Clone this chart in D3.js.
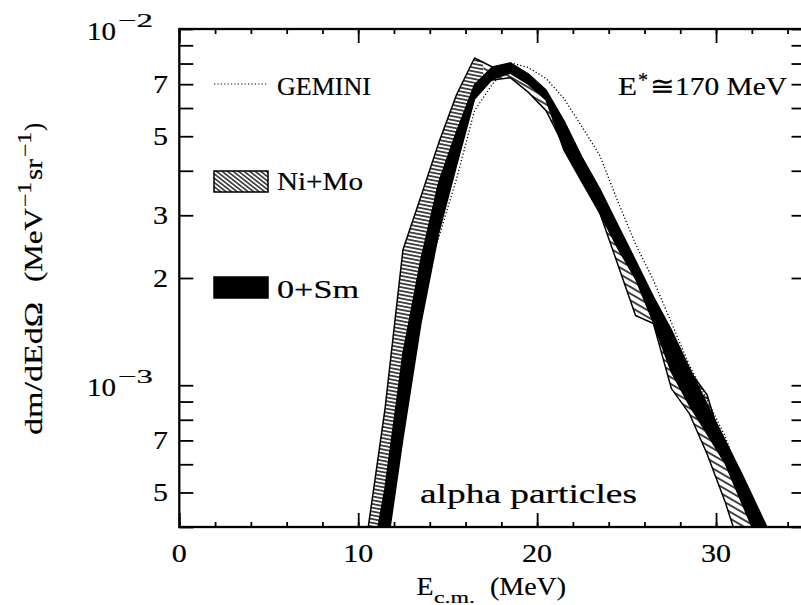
<!DOCTYPE html>
<html>
<head>
<meta charset="utf-8">
<script src="https://cdn.jsdelivr.net/npm/d3@7"></script>
<style>
  html, body { margin: 0; padding: 0; background: #fff; }
  svg { display: block; }
  text { font-family: "Liberation Serif", "Times New Roman", serif; fill: #000; stroke: #000; stroke-width: 0.2px; }
</style>
</head>
<body>
<svg id="chart" width="801" height="605"></svg>
<script>
// c.m. energy bins (MeV)
const energies = [10.5, 11.5, 12.5, 13.5, 14.5, 15.5, 16.5, 17.5, 18.5, 19.5, 20.5, 21.5,
                  22.5, 23.5, 24.5, 25.5, 26.5, 27.5, 28.5, 29.5, 30.5, 31.5, 32.5, 33.5];

// Ni+Mo band (lower / upper limits), MeV^-1 sr^-1
const niMoLow  = [1.5e-4, 4.55e-4, 1.22e-3, 2.2e-3, 3.7e-3, 5.15e-3, 6.83e-3, 7.19e-3, 7.3e-3, 6.65e-3, 5.9e-3, 4.7e-3,
                  3.8e-3, 3.05e-3, 2.19e-3, 1.57e-3, 1.49e-3, 9.8e-4, 8.34e-4, 6.41e-4, 4.72e-4, 3.3e-4, 2.5e-4, 2.0e-4];
const niMoHigh = [3.8e-4, 8.6e-4, 2.4e-3, 3.38e-3, 4.79e-3, 6.55e-3, 8.29e-3, 7.82e-3, 7.7e-3, 7.1e-3, 6.65e-3, 5.4e-3,
                  4.3e-3, 3.5e-3, 2.8e-3, 2.2e-3, 1.75e-3, 1.3e-3, 1.1e-3, 9.4e-4, 6.4e-4, 4.9e-4, 3.9e-4, 3.0e-4];

// O+Sm band (lower / upper limits)
const oSmLow  = [1.2e-4, 3.19e-4, 7.1e-4, 1.49e-3, 2.68e-3, 4.15e-3, 6.36e-3, 7.24e-3, 7.52e-3, 7.0e-3, 6.32e-3, 4.57e-3,
                 3.72e-3, 3.04e-3, 2.43e-3, 1.99e-3, 1.50e-3, 1.09e-3, 8.8e-4, 7.3e-4, 6.05e-4, 4.6e-4, 3.5e-4, 2.8e-4];
const oSmHigh = [2.7e-4, 5.14e-4, 1.22e-3, 2.25e-3, 3.7e-3, 5.15e-3, 6.97e-3, 7.82e-3, 8.03e-3, 7.48e-3, 6.74e-3, 5.52e-3,
                 4.37e-3, 3.56e-3, 2.82e-3, 2.24e-3, 1.77e-3, 1.43e-3, 1.12e-3, 8.85e-4, 7.02e-4, 5.56e-4, 4.35e-4, 3.4e-4];

// GEMINI statistical-model calculation
const gemini = [1.8e-4, 4.5e-4, 1.15e-3, 1.75e-3, 2.6e-3, 3.8e-3, 5.9e-3, 7.0e-3, 8.04e-3, 7.8e-3, 7.26e-3, 6.38e-3,
                5.32e-3, 4.42e-3, 3.29e-3, 2.49e-3, 1.97e-3, 1.50e-3, 1.14e-3, 9.1e-4, 7.2e-4, 5.3e-4, 4.1e-4, 3.2e-4];

// axis labels
const xTickLabels = [0, 10, 20, 30];
const yDecadeLabels = [1e-2, 1e-3];
const yDigitLabels = [7e-3, 5e-3, 3e-3, 2e-3, 7e-4, 5e-4];

const svg = d3.select("#chart");
const X0 = 179.3, X1 = 805.5, Y0 = 29, Y1 = 527;
const x = d3.scaleLinear().domain([0, 35]).range([X0, X1]);
const y = d3.scaleLog().domain([4e-4, 1e-2]).range([Y1, Y0]);

const defs = svg.append("defs");
defs.append("clipPath").attr("id", "plotClip")
  .append("rect").attr("x", X0).attr("y", Y0).attr("width", X1 - X0).attr("height", Y1 - Y0);
defs.append("clipPath").attr("id", "riseClip")
  .append("rect").attr("x", 0).attr("y", 0).attr("width", x(17)).attr("height", 605);
defs.append("clipPath").attr("id", "fallClip")
  .append("rect").attr("x", x(17)).attr("y", 0).attr("width", 801).attr("height", 605);

function hatch(id, spacing, angle, width) {
  const p = defs.append("pattern").attr("id", id)
    .attr("patternUnits", "userSpaceOnUse")
    .attr("width", 40).attr("height", spacing)
    .attr("patternTransform", `rotate(${angle})`);
  p.append("rect").attr("width", 40).attr("height", spacing).attr("fill", "#fff");
  p.append("line").attr("x1", 0).attr("x2", 40)
    .attr("y1", spacing / 2).attr("y2", spacing / 2)
    .attr("stroke", "#000").attr("stroke-width", width);
}
hatch("hatchRise", 3.7, 11, 1.4);
hatch("hatchFall", 5.8, 30, 1.3);
hatch("hatchKey", 3.4, 38, 1.2);

const niMo = energies.map((e, i) => ({ e, lo: niMoLow[i], hi: niMoHigh[i] }));
const oSm = energies.map((e, i) => ({ e, lo: oSmLow[i], hi: oSmHigh[i] }));
const gem = energies.map((e, i) => ({ e, v: gemini[i] }));

const band = d3.area().x(d => x(d.e)).y0(d => y(d.lo)).y1(d => y(d.hi));
const line = d3.line().x(d => x(d.e)).y(d => y(d.v));

const plot = svg.append("g").attr("clip-path", "url(#plotClip)");

// Ni+Mo hatched band
plot.append("g").attr("clip-path", "url(#riseClip)")
  .append("path").datum(niMo).attr("d", band).attr("fill", "url(#hatchRise)");
plot.append("g").attr("clip-path", "url(#fallClip)")
  .append("path").datum(niMo).attr("d", band).attr("fill", "url(#hatchFall)");
plot.append("path").datum(niMo).attr("d", band)
  .attr("fill", "none").attr("stroke", "#000").attr("stroke-width", 1.5).attr("stroke-linejoin", "round");

// O+Sm solid band
plot.append("path").datum(oSm).attr("d", band)
  .attr("fill", "#000").attr("stroke", "#000").attr("stroke-width", 1.5).attr("stroke-linejoin", "round");

// GEMINI dotted curve
plot.append("path").datum(gem).attr("d", line)
  .attr("fill", "none").attr("stroke", "#000").attr("stroke-width", 1.3)
  .attr("stroke-dasharray", "1.2,2.2");

// ticks
function tickSet(axis, tx, ty, vals, size) {
  svg.append("g").attr("transform", `translate(${tx},${ty})`)
    .call(axis.tickValues(vals).tickSize(size).tickFormat(""))
    .call(g => g.select(".domain").remove())
    .selectAll("line").attr("stroke", "#000").attr("stroke-width", 1.8);
}
const xMinor = d3.range(0, 35, 2);
const xMajor = [0, 10, 20, 30];
const yTicks = y.ticks();
tickSet(d3.axisTop(x), 0, Y1, xMinor, 5);
tickSet(d3.axisTop(x), 0, Y1, xMajor, 14);
tickSet(d3.axisBottom(x), 0, Y0, xMinor, 5);
tickSet(d3.axisBottom(x), 0, Y0, xMajor, 14);
tickSet(d3.axisRight(y), X0, 0, yTicks, 14);
tickSet(d3.axisLeft(y), X1, 0, yTicks, 14);

// frame
svg.append("rect").attr("x", X0).attr("y", Y0).attr("width", X1 - X0).attr("height", Y1 - Y0)
  .attr("fill", "none").attr("stroke", "#000").attr("stroke-width", 2.3);

function label(parent, txt, px, py, size, len, anchor) {
  const t = parent.append("text").attr("x", px).attr("y", py).attr("font-size", size).text(txt);
  if (len) t.attr("textLength", len).attr("lengthAdjust", "spacingAndGlyphs");
  if (anchor) t.attr("text-anchor", anchor);
  return t;
}

// x tick labels
xTickLabels.forEach(v => label(svg, String(v), x(v), 562, 25, 15 * String(v).length, "middle"));

// y tick labels
yDigitLabels.forEach(v => {
  const digit = Math.round(v / Math.pow(10, Math.floor(Math.log10(v) + 1e-9)));
  label(svg, String(digit), 168, y(v) + 9, 25, 15, "end");
});
yDecadeLabels.forEach(v => {
  const ex = Math.round(Math.log10(v));
  label(svg, "10", 87, y(v) + 11, 25, 29);
  label(svg, "\u2212" + Math.abs(ex), 118, y(v) - 2, 19, 35);
});

// axis titles
label(svg, "E", 416.5, 595, 26, 17);
label(svg, "c.m.", 434, 603, 16, 41);
label(svg, "(MeV)", 490, 595, 26, 76);

const yt = svg.append("g").attr("transform", "translate(42,435) rotate(-90)");
label(yt, "dm/dEd\u03A9", 0, 0, 26, 133);
label(yt, "(MeV", 153, 0, 26, 74);
label(yt, "\u22121", 228, -11, 18, 25);
label(yt, "sr", 255, 0, 26, 21);
label(yt, "\u22121", 278, -11, 18, 25);
label(yt, ")", 304, 0, 26, 8);

// legend
svg.append("line").attr("x1", 214).attr("x2", 268).attr("y1", 84).attr("y2", 84)
  .attr("stroke", "#000").attr("stroke-width", 1.2).attr("stroke-dasharray", "1.2,2.2");
label(svg, "GEMINI", 277, 95, 25, 94);
svg.append("rect").attr("x", 214).attr("y", 171).attr("width", 54).attr("height", 21)
  .attr("fill", "url(#hatchKey)").attr("stroke", "#000").attr("stroke-width", 1.5);
label(svg, "Ni+Mo", 277, 190, 25, 86);
svg.append("rect").attr("x", 214).attr("y", 277).attr("width", 54).attr("height", 21)
  .attr("fill", "#000").attr("stroke", "#000").attr("stroke-width", 1.5);
label(svg, "0+Sm", 277, 297.5, 25, 82);

// annotations
label(svg, "E", 618, 95, 26, 19);
label(svg, "*", 638, 87, 20, 10);
label(svg, "\u2245170 MeV", 650, 95, 26, 137);
label(svg, "alpha particles", 420, 502.5, 27, 217);
</script>
</body>
</html>
